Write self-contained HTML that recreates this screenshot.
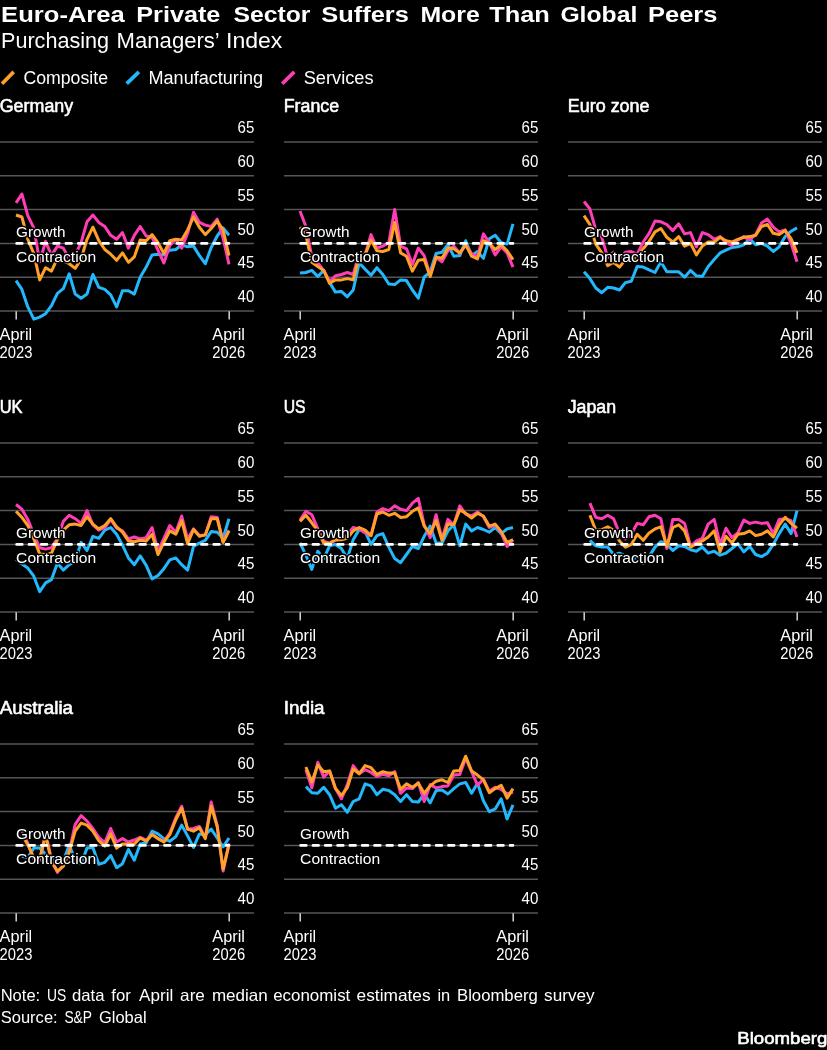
<!DOCTYPE html><html><head><meta charset="utf-8"><title>chart</title>
<style>html,body{margin:0;padding:0;background:#000;}svg{display:block;will-change:transform}text{font-family:"Liberation Sans",sans-serif;fill:#fff}</style></head><body>
<svg width="827" height="1050" viewBox="0 0 827 1050">
<rect width="827" height="1050" fill="#000"/>
<text x="1.1" y="21.9" font-size="22" font-weight="bold" textLength="123.7" lengthAdjust="spacingAndGlyphs">Euro-Area</text>
<text x="136.3" y="21.9" font-size="22" font-weight="bold" textLength="84.1" lengthAdjust="spacingAndGlyphs">Private</text>
<text x="233.6" y="21.9" font-size="22" font-weight="bold" textLength="76.9" lengthAdjust="spacingAndGlyphs">Sector</text>
<text x="321.3" y="21.9" font-size="22" font-weight="bold" textLength="87.6" lengthAdjust="spacingAndGlyphs">Suffers</text>
<text x="420.4" y="21.9" font-size="22" font-weight="bold" textLength="59.4" lengthAdjust="spacingAndGlyphs">More</text>
<text x="489.2" y="21.9" font-size="22" font-weight="bold" textLength="60.6" lengthAdjust="spacingAndGlyphs">Than</text>
<text x="560.4" y="21.9" font-size="22" font-weight="bold" textLength="76.9" lengthAdjust="spacingAndGlyphs">Global</text>
<text x="648.0" y="21.9" font-size="22" font-weight="bold" textLength="69.4" lengthAdjust="spacingAndGlyphs">Peers</text>
<text x="1.0" y="48.0" font-size="21.2" textLength="108.1" lengthAdjust="spacingAndGlyphs">Purchasing</text>
<text x="116.6" y="48.0" font-size="21.2" textLength="103.2" lengthAdjust="spacingAndGlyphs">Managers’</text>
<text x="226.0" y="48.0" font-size="21.2" textLength="56.4" lengthAdjust="spacingAndGlyphs">Index</text>
<line x1="2.0" y1="83.7" x2="13.7" y2="71.9" stroke="#ffa028" stroke-width="3.7"/>
<line x1="126.7" y1="83.7" x2="138.9" y2="71.9" stroke="#22b8fb" stroke-width="3.7"/>
<line x1="282.2" y1="83.7" x2="294.3" y2="71.9" stroke="#ff3eb5" stroke-width="3.7"/>
<text x="23.4" y="84.0" font-size="18.8" textLength="84.6" lengthAdjust="spacingAndGlyphs">Composite</text>
<text x="148.5" y="84.0" font-size="18.8" textLength="114.5" lengthAdjust="spacingAndGlyphs">Manufacturing</text>
<text x="303.7" y="84.0" font-size="18.8" textLength="69.9" lengthAdjust="spacingAndGlyphs">Services</text>
<text x="-0.3" y="111.5" font-size="17.6" textLength="73.5" lengthAdjust="spacingAndGlyphs" stroke="#fff" stroke-width="0.55" stroke-linejoin="round">Germany</text>
<line x1="0" y1="142.0" x2="254" y2="142.0" stroke="#565656" stroke-width="1.5"/>
<text x="254.4" y="133.1" font-size="15.6" text-anchor="end" textLength="16.8" lengthAdjust="spacingAndGlyphs">65</text>
<line x1="0" y1="175.8" x2="254" y2="175.8" stroke="#565656" stroke-width="1.5"/>
<text x="254.4" y="166.9" font-size="15.6" text-anchor="end" textLength="16.8" lengthAdjust="spacingAndGlyphs">60</text>
<line x1="0" y1="209.6" x2="254" y2="209.6" stroke="#565656" stroke-width="1.5"/>
<text x="254.4" y="200.7" font-size="15.6" text-anchor="end" textLength="16.8" lengthAdjust="spacingAndGlyphs">55</text>
<line x1="0" y1="243.4" x2="254" y2="243.4" stroke="#565656" stroke-width="1.5"/>
<text x="254.4" y="234.5" font-size="15.6" text-anchor="end" textLength="16.8" lengthAdjust="spacingAndGlyphs">50</text>
<line x1="0" y1="277.2" x2="254" y2="277.2" stroke="#565656" stroke-width="1.5"/>
<text x="254.4" y="268.3" font-size="15.6" text-anchor="end" textLength="16.8" lengthAdjust="spacingAndGlyphs">45</text>
<line x1="0" y1="311.0" x2="254" y2="311.0" stroke="#565656" stroke-width="1.5"/>
<text x="254.4" y="302.1" font-size="15.6" text-anchor="end" textLength="16.8" lengthAdjust="spacingAndGlyphs">40</text>
<line x1="16.2" y1="311.3" x2="16.2" y2="319.5" stroke="#d6d6d6" stroke-width="1.5"/>
<line x1="229.2" y1="311.3" x2="229.2" y2="319.5" stroke="#d6d6d6" stroke-width="1.5"/>
<text x="-0.4" y="339.8" font-size="15.6" textLength="32.6" lengthAdjust="spacingAndGlyphs">April</text>
<text x="-0.4" y="357.5" font-size="15.6" textLength="32.8" lengthAdjust="spacingAndGlyphs">2023</text>
<text x="212.29999999999998" y="339.8" font-size="15.6" textLength="32.6" lengthAdjust="spacingAndGlyphs">April</text>
<text x="212.29999999999998" y="357.5" font-size="15.6" textLength="32.8" lengthAdjust="spacingAndGlyphs">2026</text>
<polyline points="16.0,280.6 21.9,289.4 27.8,306.9 33.8,319.1 39.7,317.1 45.6,313.7 51.5,305.6 57.4,293.4 63.3,288.7 69.2,273.8 75.2,294.1 81.1,298.2 87.0,294.1 92.9,274.5 98.8,287.3 104.8,289.4 110.7,294.8 116.6,306.9 122.5,290.7 128.4,290.7 134.3,294.1 140.2,277.2 146.2,267.1 152.1,254.9 158.0,254.2 163.9,254.9 169.8,250.2 175.8,249.5 181.7,244.8 187.6,246.8 193.5,246.1 199.4,255.6 205.3,263.7 211.2,247.5 217.2,236.0 223.1,227.9 229.0,235.3" fill="none" stroke="#22b8fb" stroke-width="3.0" stroke-linejoin="round" stroke-linecap="butt"/>
<polyline points="16.0,202.8 21.9,194.1 27.8,215.7 33.8,227.9 39.7,261.7 45.6,241.4 51.5,255.6 57.4,246.1 63.3,248.1 69.2,258.9 75.2,254.9 81.1,242.7 87.0,221.8 92.9,215.0 98.8,222.4 104.8,226.5 110.7,235.3 116.6,239.3 122.5,232.6 128.4,248.1 134.3,235.3 140.2,226.5 146.2,236.0 152.1,237.3 158.0,250.2 163.9,263.0 169.8,245.4 175.8,239.3 181.7,248.1 187.6,233.3 193.5,212.3 199.4,222.4 205.3,225.1 211.2,226.5 217.2,219.1 223.1,238.0 229.0,264.4" fill="none" stroke="#ff3eb5" stroke-width="3.0" stroke-linejoin="round" stroke-linecap="butt"/>
<polyline points="16.0,215.0 21.9,217.0 27.8,239.3 33.8,253.5 39.7,279.9 45.6,267.7 51.5,271.1 57.4,258.3 63.3,261.0 69.2,263.7 75.2,268.4 81.1,258.9 87.0,239.3 92.9,227.2 98.8,240.7 104.8,249.5 110.7,254.2 116.6,260.3 122.5,252.9 128.4,262.3 134.3,256.9 140.2,240.0 146.2,240.7 152.1,234.6 158.0,242.7 163.9,253.5 169.8,240.7 175.8,239.3 181.7,240.0 187.6,229.9 193.5,217.0 199.4,227.2 205.3,234.6 211.2,228.5 217.2,221.1 223.1,229.9 229.0,255.6" fill="none" stroke="#ffa028" stroke-width="3.0" stroke-linejoin="round" stroke-linecap="butt"/>
<line x1="16.6" y1="243.4" x2="229.0" y2="243.4" stroke="#fff" stroke-width="2.6" stroke-linecap="round" stroke-dasharray="5.7,6.62"/>
<text x="16.1" y="237.2" font-size="15.4" textLength="49.3" lengthAdjust="spacingAndGlyphs" stroke="#000" stroke-width="3" stroke-linejoin="round" paint-order="stroke" fill="#fff">Growth</text>
<text x="16.1" y="262.1" font-size="15.4" textLength="80.0" lengthAdjust="spacingAndGlyphs" stroke="#000" stroke-width="3" stroke-linejoin="round" paint-order="stroke" fill="#fff">Contraction</text>
<text x="283.7" y="111.5" font-size="17.6" textLength="55.4" lengthAdjust="spacingAndGlyphs" stroke="#fff" stroke-width="0.55" stroke-linejoin="round">France</text>
<line x1="284" y1="142.0" x2="538" y2="142.0" stroke="#565656" stroke-width="1.5"/>
<text x="538.4" y="133.1" font-size="15.6" text-anchor="end" textLength="16.8" lengthAdjust="spacingAndGlyphs">65</text>
<line x1="284" y1="175.8" x2="538" y2="175.8" stroke="#565656" stroke-width="1.5"/>
<text x="538.4" y="166.9" font-size="15.6" text-anchor="end" textLength="16.8" lengthAdjust="spacingAndGlyphs">60</text>
<line x1="284" y1="209.6" x2="538" y2="209.6" stroke="#565656" stroke-width="1.5"/>
<text x="538.4" y="200.7" font-size="15.6" text-anchor="end" textLength="16.8" lengthAdjust="spacingAndGlyphs">55</text>
<line x1="284" y1="243.4" x2="538" y2="243.4" stroke="#565656" stroke-width="1.5"/>
<text x="538.4" y="234.5" font-size="15.6" text-anchor="end" textLength="16.8" lengthAdjust="spacingAndGlyphs">50</text>
<line x1="284" y1="277.2" x2="538" y2="277.2" stroke="#565656" stroke-width="1.5"/>
<text x="538.4" y="268.3" font-size="15.6" text-anchor="end" textLength="16.8" lengthAdjust="spacingAndGlyphs">45</text>
<line x1="284" y1="311.0" x2="538" y2="311.0" stroke="#565656" stroke-width="1.5"/>
<text x="538.4" y="302.1" font-size="15.6" text-anchor="end" textLength="16.8" lengthAdjust="spacingAndGlyphs">40</text>
<line x1="300.2" y1="311.3" x2="300.2" y2="319.5" stroke="#d6d6d6" stroke-width="1.5"/>
<line x1="513.2" y1="311.3" x2="513.2" y2="319.5" stroke="#d6d6d6" stroke-width="1.5"/>
<text x="283.6" y="339.8" font-size="15.6" textLength="32.6" lengthAdjust="spacingAndGlyphs">April</text>
<text x="283.6" y="357.5" font-size="15.6" textLength="32.8" lengthAdjust="spacingAndGlyphs">2023</text>
<text x="496.3" y="339.8" font-size="15.6" textLength="32.6" lengthAdjust="spacingAndGlyphs">April</text>
<text x="496.3" y="357.5" font-size="15.6" textLength="32.8" lengthAdjust="spacingAndGlyphs">2026</text>
<polyline points="300.0,273.1 305.9,272.5 311.8,270.4 317.8,276.5 323.7,270.4 329.6,282.6 335.5,292.1 341.4,291.4 347.3,296.8 353.2,290.0 359.2,263.0 365.1,269.1 371.0,275.2 376.9,267.7 382.8,274.5 388.8,284.0 394.7,284.6 400.6,279.9 406.5,280.6 412.4,290.0 418.3,298.2 424.2,277.2 430.2,271.8 436.1,253.5 442.0,252.2 447.9,244.8 453.8,256.2 459.8,255.6 465.7,240.7 471.6,255.6 477.5,251.5 483.4,258.3 489.3,238.7 495.2,235.3 501.2,242.7 507.1,244.1 513.0,223.8" fill="none" stroke="#22b8fb" stroke-width="3.0" stroke-linejoin="round" stroke-linecap="butt"/>
<polyline points="300.0,211.0 305.9,226.5 311.8,256.9 317.8,263.0 323.7,270.4 329.6,281.3 335.5,275.8 341.4,274.5 347.3,272.5 353.2,274.5 359.2,254.2 365.1,254.9 371.0,234.6 376.9,248.1 382.8,246.1 388.8,242.7 394.7,209.6 400.6,246.1 406.5,248.8 412.4,264.4 418.3,248.1 424.2,255.6 430.2,275.2 436.1,257.6 442.0,261.7 447.9,250.8 453.8,246.1 459.8,253.5 465.7,244.8 471.6,253.5 477.5,256.9 483.4,233.9 489.3,242.7 495.2,254.9 501.2,246.8 507.1,252.9 513.0,267.1" fill="none" stroke="#ff3eb5" stroke-width="3.0" stroke-linejoin="round" stroke-linecap="butt"/>
<polyline points="300.0,227.2 305.9,235.3 311.8,262.3 317.8,266.4 323.7,270.4 329.6,283.3 335.5,279.9 341.4,279.9 347.3,278.6 353.2,279.9 359.2,256.2 365.1,254.9 371.0,240.0 376.9,250.8 382.8,251.5 388.8,249.5 394.7,222.4 400.6,252.9 406.5,256.2 412.4,271.1 418.3,260.3 424.2,259.6 430.2,276.5 436.1,256.9 442.0,258.3 447.9,248.1 453.8,248.8 459.8,252.9 465.7,244.8 471.6,256.2 477.5,258.9 483.4,240.7 489.3,243.4 495.2,249.5 501.2,244.8 507.1,250.8 513.0,259.6" fill="none" stroke="#ffa028" stroke-width="3.0" stroke-linejoin="round" stroke-linecap="butt"/>
<line x1="300.6" y1="243.4" x2="513.0" y2="243.4" stroke="#fff" stroke-width="2.6" stroke-linecap="round" stroke-dasharray="5.7,6.62"/>
<text x="300.1" y="237.2" font-size="15.4" textLength="49.3" lengthAdjust="spacingAndGlyphs" stroke="#000" stroke-width="3" stroke-linejoin="round" paint-order="stroke" fill="#fff">Growth</text>
<text x="300.1" y="262.1" font-size="15.4" textLength="80.0" lengthAdjust="spacingAndGlyphs" stroke="#000" stroke-width="3" stroke-linejoin="round" paint-order="stroke" fill="#fff">Contraction</text>
<text x="567.7" y="111.5" font-size="17.6" textLength="81.9" lengthAdjust="spacingAndGlyphs" stroke="#fff" stroke-width="0.55" stroke-linejoin="round">Euro zone</text>
<line x1="568" y1="142.0" x2="822" y2="142.0" stroke="#565656" stroke-width="1.5"/>
<text x="822.4" y="133.1" font-size="15.6" text-anchor="end" textLength="16.8" lengthAdjust="spacingAndGlyphs">65</text>
<line x1="568" y1="175.8" x2="822" y2="175.8" stroke="#565656" stroke-width="1.5"/>
<text x="822.4" y="166.9" font-size="15.6" text-anchor="end" textLength="16.8" lengthAdjust="spacingAndGlyphs">60</text>
<line x1="568" y1="209.6" x2="822" y2="209.6" stroke="#565656" stroke-width="1.5"/>
<text x="822.4" y="200.7" font-size="15.6" text-anchor="end" textLength="16.8" lengthAdjust="spacingAndGlyphs">55</text>
<line x1="568" y1="243.4" x2="822" y2="243.4" stroke="#565656" stroke-width="1.5"/>
<text x="822.4" y="234.5" font-size="15.6" text-anchor="end" textLength="16.8" lengthAdjust="spacingAndGlyphs">50</text>
<line x1="568" y1="277.2" x2="822" y2="277.2" stroke="#565656" stroke-width="1.5"/>
<text x="822.4" y="268.3" font-size="15.6" text-anchor="end" textLength="16.8" lengthAdjust="spacingAndGlyphs">45</text>
<line x1="568" y1="311.0" x2="822" y2="311.0" stroke="#565656" stroke-width="1.5"/>
<text x="822.4" y="302.1" font-size="15.6" text-anchor="end" textLength="16.8" lengthAdjust="spacingAndGlyphs">40</text>
<line x1="584.2" y1="311.3" x2="584.2" y2="319.5" stroke="#d6d6d6" stroke-width="1.5"/>
<line x1="797.2" y1="311.3" x2="797.2" y2="319.5" stroke="#d6d6d6" stroke-width="1.5"/>
<text x="567.6" y="339.8" font-size="15.6" textLength="32.6" lengthAdjust="spacingAndGlyphs">April</text>
<text x="567.6" y="357.5" font-size="15.6" textLength="32.8" lengthAdjust="spacingAndGlyphs">2023</text>
<text x="780.3000000000001" y="339.8" font-size="15.6" textLength="32.6" lengthAdjust="spacingAndGlyphs">April</text>
<text x="780.3000000000001" y="357.5" font-size="15.6" textLength="32.8" lengthAdjust="spacingAndGlyphs">2026</text>
<polyline points="584.0,271.8 589.9,278.6 595.8,288.0 601.8,292.7 607.7,287.3 613.6,288.0 619.5,290.0 625.4,282.6 631.3,281.3 637.2,266.4 643.2,267.1 649.1,269.8 655.0,272.5 660.9,261.7 666.8,271.8 672.8,271.8 678.7,271.8 684.6,277.2 690.5,270.4 696.4,275.8 702.3,276.5 708.2,266.4 714.2,259.6 720.1,252.9 726.0,250.2 731.9,247.5 737.8,246.8 743.8,244.8 749.7,238.7 755.6,244.8 761.5,243.4 767.4,246.1 773.3,251.5 779.2,246.8 785.2,236.6 791.1,231.2 797.0,227.9" fill="none" stroke="#22b8fb" stroke-width="3.0" stroke-linejoin="round" stroke-linecap="butt"/>
<polyline points="584.0,201.5 589.9,208.9 595.8,229.9 601.8,237.3 607.7,257.6 613.6,252.2 619.5,258.3 625.4,252.2 631.3,251.5 637.2,254.2 643.2,242.0 649.1,233.3 655.0,221.1 660.9,221.8 666.8,224.5 672.8,230.6 678.7,223.8 684.6,233.9 690.5,232.6 696.4,246.8 702.3,232.6 708.2,234.6 714.2,239.3 720.1,236.6 726.0,242.7 731.9,245.4 737.8,240.0 743.8,236.6 749.7,240.0 755.6,234.6 761.5,223.1 767.4,219.1 773.3,227.2 779.2,231.9 785.2,229.9 791.1,243.4 797.0,261.7" fill="none" stroke="#ff3eb5" stroke-width="3.0" stroke-linejoin="round" stroke-linecap="butt"/>
<polyline points="584.0,215.7 589.9,224.5 595.8,244.1 601.8,252.9 607.7,265.7 613.6,262.3 619.5,267.1 625.4,259.6 631.3,259.6 637.2,257.6 643.2,248.8 649.1,241.4 655.0,231.9 660.9,228.5 666.8,237.3 672.8,242.0 678.7,236.6 684.6,246.1 690.5,243.4 696.4,254.9 702.3,246.1 708.2,242.0 714.2,242.0 720.1,237.3 726.0,240.7 731.9,242.0 737.8,239.3 743.8,237.3 749.7,236.6 755.6,235.3 761.5,226.5 767.4,224.5 773.3,233.3 779.2,234.6 785.2,230.6 791.1,238.7 797.0,252.9" fill="none" stroke="#ffa028" stroke-width="3.0" stroke-linejoin="round" stroke-linecap="butt"/>
<line x1="584.6" y1="243.4" x2="797.0" y2="243.4" stroke="#fff" stroke-width="2.6" stroke-linecap="round" stroke-dasharray="5.7,6.62"/>
<text x="584.1" y="237.2" font-size="15.4" textLength="49.3" lengthAdjust="spacingAndGlyphs" stroke="#000" stroke-width="3" stroke-linejoin="round" paint-order="stroke" fill="#fff">Growth</text>
<text x="584.1" y="262.1" font-size="15.4" textLength="80.0" lengthAdjust="spacingAndGlyphs" stroke="#000" stroke-width="3" stroke-linejoin="round" paint-order="stroke" fill="#fff">Contraction</text>
<text x="-0.3" y="412.5" font-size="17.6" textLength="22.9" lengthAdjust="spacingAndGlyphs" stroke="#fff" stroke-width="0.55" stroke-linejoin="round">UK</text>
<line x1="0" y1="443.0" x2="254" y2="443.0" stroke="#565656" stroke-width="1.5"/>
<text x="254.4" y="434.1" font-size="15.6" text-anchor="end" textLength="16.8" lengthAdjust="spacingAndGlyphs">65</text>
<line x1="0" y1="476.8" x2="254" y2="476.8" stroke="#565656" stroke-width="1.5"/>
<text x="254.4" y="467.9" font-size="15.6" text-anchor="end" textLength="16.8" lengthAdjust="spacingAndGlyphs">60</text>
<line x1="0" y1="510.6" x2="254" y2="510.6" stroke="#565656" stroke-width="1.5"/>
<text x="254.4" y="501.7" font-size="15.6" text-anchor="end" textLength="16.8" lengthAdjust="spacingAndGlyphs">55</text>
<line x1="0" y1="544.4" x2="254" y2="544.4" stroke="#565656" stroke-width="1.5"/>
<text x="254.4" y="535.5" font-size="15.6" text-anchor="end" textLength="16.8" lengthAdjust="spacingAndGlyphs">50</text>
<line x1="0" y1="578.2" x2="254" y2="578.2" stroke="#565656" stroke-width="1.5"/>
<text x="254.4" y="569.3" font-size="15.6" text-anchor="end" textLength="16.8" lengthAdjust="spacingAndGlyphs">45</text>
<line x1="0" y1="612.0" x2="254" y2="612.0" stroke="#565656" stroke-width="1.5"/>
<text x="254.4" y="603.1" font-size="15.6" text-anchor="end" textLength="16.8" lengthAdjust="spacingAndGlyphs">40</text>
<line x1="16.2" y1="612.3" x2="16.2" y2="620.5" stroke="#d6d6d6" stroke-width="1.5"/>
<line x1="229.2" y1="612.3" x2="229.2" y2="620.5" stroke="#d6d6d6" stroke-width="1.5"/>
<text x="-0.4" y="640.8" font-size="15.6" textLength="32.6" lengthAdjust="spacingAndGlyphs">April</text>
<text x="-0.4" y="658.5" font-size="15.6" textLength="32.8" lengthAdjust="spacingAndGlyphs">2023</text>
<text x="212.29999999999998" y="640.8" font-size="15.6" textLength="32.6" lengthAdjust="spacingAndGlyphs">April</text>
<text x="212.29999999999998" y="658.5" font-size="15.6" textLength="32.8" lengthAdjust="spacingAndGlyphs">2026</text>
<polyline points="16.0,559.3 21.9,564.0 27.8,568.1 33.8,576.2 39.7,591.7 45.6,582.9 51.5,579.6 57.4,563.3 63.3,570.1 69.2,564.7 75.2,561.3 81.1,542.4 87.0,550.5 92.9,536.3 98.8,538.3 104.8,530.2 110.7,527.5 116.6,534.3 122.5,545.1 128.4,557.9 134.3,564.7 140.2,555.9 146.2,565.4 152.1,578.9 158.0,575.5 163.9,568.7 169.8,559.9 175.8,557.9 181.7,564.7 187.6,570.1 193.5,546.4 199.4,543.0 205.3,540.3 211.2,531.6 217.2,532.2 223.1,538.3 229.0,518.7" fill="none" stroke="#22b8fb" stroke-width="3.0" stroke-linejoin="round" stroke-linecap="butt"/>
<polyline points="16.0,504.5 21.9,509.2 27.8,519.4 33.8,534.3 39.7,547.8 45.6,549.1 51.5,547.8 57.4,538.3 63.3,521.4 69.2,515.3 75.2,518.7 81.1,523.4 87.0,510.6 92.9,524.8 98.8,530.2 104.8,527.5 110.7,519.4 116.6,528.2 122.5,530.9 128.4,539.0 134.3,537.0 140.2,539.0 146.2,537.6 152.1,527.5 158.0,551.2 163.9,538.3 169.8,525.5 175.8,532.2 181.7,516.0 187.6,539.0 193.5,528.9 199.4,535.6 205.3,534.9 211.2,516.7 217.2,517.4 223.1,541.7 229.0,530.2" fill="none" stroke="#ff3eb5" stroke-width="3.0" stroke-linejoin="round" stroke-linecap="butt"/>
<polyline points="16.0,511.3 21.9,517.4 27.8,525.5 33.8,539.0 39.7,553.9 45.6,554.5 51.5,553.2 57.4,539.7 63.3,530.2 69.2,524.8 75.2,524.1 81.1,525.5 87.0,516.7 92.9,524.1 98.8,528.9 104.8,525.5 110.7,518.7 116.6,526.8 122.5,532.2 128.4,541.0 134.3,541.7 140.2,540.3 146.2,541.0 152.1,534.3 158.0,554.5 163.9,542.4 169.8,530.9 175.8,534.3 181.7,520.7 187.6,543.7 193.5,529.5 199.4,536.3 205.3,534.9 211.2,518.7 217.2,518.7 223.1,542.4 229.0,530.9" fill="none" stroke="#ffa028" stroke-width="3.0" stroke-linejoin="round" stroke-linecap="butt"/>
<line x1="16.6" y1="544.4" x2="229.0" y2="544.4" stroke="#fff" stroke-width="2.6" stroke-linecap="round" stroke-dasharray="5.7,6.62"/>
<text x="16.1" y="538.2" font-size="15.4" textLength="49.3" lengthAdjust="spacingAndGlyphs" stroke="#000" stroke-width="3" stroke-linejoin="round" paint-order="stroke" fill="#fff">Growth</text>
<text x="16.1" y="563.1" font-size="15.4" textLength="80.0" lengthAdjust="spacingAndGlyphs" stroke="#000" stroke-width="3" stroke-linejoin="round" paint-order="stroke" fill="#fff">Contraction</text>
<text x="283.7" y="412.5" font-size="17.6" textLength="21.9" lengthAdjust="spacingAndGlyphs" stroke="#fff" stroke-width="0.55" stroke-linejoin="round">US</text>
<line x1="284" y1="443.0" x2="538" y2="443.0" stroke="#565656" stroke-width="1.5"/>
<text x="538.4" y="434.1" font-size="15.6" text-anchor="end" textLength="16.8" lengthAdjust="spacingAndGlyphs">65</text>
<line x1="284" y1="476.8" x2="538" y2="476.8" stroke="#565656" stroke-width="1.5"/>
<text x="538.4" y="467.9" font-size="15.6" text-anchor="end" textLength="16.8" lengthAdjust="spacingAndGlyphs">60</text>
<line x1="284" y1="510.6" x2="538" y2="510.6" stroke="#565656" stroke-width="1.5"/>
<text x="538.4" y="501.7" font-size="15.6" text-anchor="end" textLength="16.8" lengthAdjust="spacingAndGlyphs">55</text>
<line x1="284" y1="544.4" x2="538" y2="544.4" stroke="#565656" stroke-width="1.5"/>
<text x="538.4" y="535.5" font-size="15.6" text-anchor="end" textLength="16.8" lengthAdjust="spacingAndGlyphs">50</text>
<line x1="284" y1="578.2" x2="538" y2="578.2" stroke="#565656" stroke-width="1.5"/>
<text x="538.4" y="569.3" font-size="15.6" text-anchor="end" textLength="16.8" lengthAdjust="spacingAndGlyphs">45</text>
<line x1="284" y1="612.0" x2="538" y2="612.0" stroke="#565656" stroke-width="1.5"/>
<text x="538.4" y="603.1" font-size="15.6" text-anchor="end" textLength="16.8" lengthAdjust="spacingAndGlyphs">40</text>
<line x1="300.2" y1="612.3" x2="300.2" y2="620.5" stroke="#d6d6d6" stroke-width="1.5"/>
<line x1="513.2" y1="612.3" x2="513.2" y2="620.5" stroke="#d6d6d6" stroke-width="1.5"/>
<text x="283.6" y="640.8" font-size="15.6" textLength="32.6" lengthAdjust="spacingAndGlyphs">April</text>
<text x="283.6" y="658.5" font-size="15.6" textLength="32.8" lengthAdjust="spacingAndGlyphs">2023</text>
<text x="496.3" y="640.8" font-size="15.6" textLength="32.6" lengthAdjust="spacingAndGlyphs">April</text>
<text x="496.3" y="658.5" font-size="15.6" textLength="32.8" lengthAdjust="spacingAndGlyphs">2026</text>
<polyline points="300.0,543.0 305.9,555.2 311.8,569.4 317.8,551.2 323.7,558.6 329.6,545.8 335.5,544.4 341.4,548.5 347.3,558.6 353.2,539.7 359.2,529.5 365.1,531.6 371.0,544.4 376.9,535.6 382.8,533.6 388.8,547.1 394.7,558.6 400.6,562.7 406.5,554.5 412.4,546.4 418.3,548.5 424.2,536.3 430.2,526.1 436.1,543.0 442.0,543.0 447.9,530.9 453.8,524.8 459.8,545.8 465.7,524.1 471.6,530.9 477.5,527.5 483.4,529.5 489.3,532.2 495.2,527.5 501.2,533.6 507.1,528.9 513.0,527.5" fill="none" stroke="#22b8fb" stroke-width="3.0" stroke-linejoin="round" stroke-linecap="butt"/>
<polyline points="300.0,520.1 305.9,511.3 311.8,514.7 317.8,528.9 323.7,541.0 329.6,543.7 335.5,540.3 341.4,539.0 347.3,534.9 353.2,527.5 359.2,528.9 365.1,532.9 371.0,535.6 376.9,512.0 382.8,508.6 388.8,510.6 394.7,505.9 400.6,509.2 406.5,510.6 412.4,503.2 418.3,498.4 424.2,524.8 430.2,537.6 436.1,514.7 442.0,539.0 447.9,519.4 453.8,524.8 459.8,505.9 465.7,514.0 471.6,516.0 477.5,512.0 483.4,516.7 489.3,527.5 495.2,524.8 501.2,532.9 507.1,546.4 513.0,539.7" fill="none" stroke="#ff3eb5" stroke-width="3.0" stroke-linejoin="round" stroke-linecap="butt"/>
<polyline points="300.0,521.4 305.9,515.3 311.8,522.8 317.8,530.9 323.7,543.0 329.6,543.0 335.5,539.7 341.4,539.7 347.3,538.3 353.2,530.9 359.2,527.5 365.1,530.2 371.0,535.6 376.9,514.0 382.8,512.0 388.8,515.3 394.7,513.3 400.6,517.4 406.5,516.7 412.4,511.3 418.3,507.9 424.2,526.1 430.2,533.6 436.1,520.7 442.0,540.3 447.9,524.1 453.8,524.8 459.8,509.9 465.7,513.3 471.6,518.0 477.5,513.3 483.4,516.0 489.3,526.1 495.2,524.1 501.2,531.6 507.1,542.4 513.0,539.7" fill="none" stroke="#ffa028" stroke-width="3.0" stroke-linejoin="round" stroke-linecap="butt"/>
<line x1="300.6" y1="544.4" x2="513.0" y2="544.4" stroke="#fff" stroke-width="2.6" stroke-linecap="round" stroke-dasharray="5.7,6.62"/>
<text x="300.1" y="538.2" font-size="15.4" textLength="49.3" lengthAdjust="spacingAndGlyphs" stroke="#000" stroke-width="3" stroke-linejoin="round" paint-order="stroke" fill="#fff">Growth</text>
<text x="300.1" y="563.1" font-size="15.4" textLength="80.0" lengthAdjust="spacingAndGlyphs" stroke="#000" stroke-width="3" stroke-linejoin="round" paint-order="stroke" fill="#fff">Contraction</text>
<text x="567.7" y="412.5" font-size="17.6" textLength="48.4" lengthAdjust="spacingAndGlyphs" stroke="#fff" stroke-width="0.55" stroke-linejoin="round">Japan</text>
<line x1="568" y1="443.0" x2="822" y2="443.0" stroke="#565656" stroke-width="1.5"/>
<text x="822.4" y="434.1" font-size="15.6" text-anchor="end" textLength="16.8" lengthAdjust="spacingAndGlyphs">65</text>
<line x1="568" y1="476.8" x2="822" y2="476.8" stroke="#565656" stroke-width="1.5"/>
<text x="822.4" y="467.9" font-size="15.6" text-anchor="end" textLength="16.8" lengthAdjust="spacingAndGlyphs">60</text>
<line x1="568" y1="510.6" x2="822" y2="510.6" stroke="#565656" stroke-width="1.5"/>
<text x="822.4" y="501.7" font-size="15.6" text-anchor="end" textLength="16.8" lengthAdjust="spacingAndGlyphs">55</text>
<line x1="568" y1="544.4" x2="822" y2="544.4" stroke="#565656" stroke-width="1.5"/>
<text x="822.4" y="535.5" font-size="15.6" text-anchor="end" textLength="16.8" lengthAdjust="spacingAndGlyphs">50</text>
<line x1="568" y1="578.2" x2="822" y2="578.2" stroke="#565656" stroke-width="1.5"/>
<text x="822.4" y="569.3" font-size="15.6" text-anchor="end" textLength="16.8" lengthAdjust="spacingAndGlyphs">45</text>
<line x1="568" y1="612.0" x2="822" y2="612.0" stroke="#565656" stroke-width="1.5"/>
<text x="822.4" y="603.1" font-size="15.6" text-anchor="end" textLength="16.8" lengthAdjust="spacingAndGlyphs">40</text>
<line x1="584.2" y1="612.3" x2="584.2" y2="620.5" stroke="#d6d6d6" stroke-width="1.5"/>
<line x1="797.2" y1="612.3" x2="797.2" y2="620.5" stroke="#d6d6d6" stroke-width="1.5"/>
<text x="567.6" y="640.8" font-size="15.6" textLength="32.6" lengthAdjust="spacingAndGlyphs">April</text>
<text x="567.6" y="658.5" font-size="15.6" textLength="32.8" lengthAdjust="spacingAndGlyphs">2023</text>
<text x="780.3000000000001" y="640.8" font-size="15.6" textLength="32.6" lengthAdjust="spacingAndGlyphs">April</text>
<text x="780.3000000000001" y="658.5" font-size="15.6" textLength="32.8" lengthAdjust="spacingAndGlyphs">2026</text>
<polyline points="589.9,540.3 595.8,545.8 601.8,547.1 607.7,547.1 613.6,554.5 619.5,553.2 625.4,555.9 631.3,558.6 637.2,557.9 643.2,563.3 649.1,556.6 655.0,547.1 660.9,541.7 666.8,544.4 672.8,550.5 678.7,545.8 684.6,546.4 690.5,549.8 696.4,551.2 702.3,547.1 708.2,553.2 714.2,551.2 720.1,555.2 726.0,553.2 731.9,548.5 737.8,543.7 743.8,551.8 749.7,546.4 755.6,554.5 761.5,556.6 767.4,553.2 773.3,544.4 779.2,533.6 785.2,524.1 791.1,533.6 797.0,510.6" fill="none" stroke="#22b8fb" stroke-width="3.0" stroke-linejoin="round" stroke-linecap="butt"/>
<polyline points="589.9,503.2 595.8,517.4 601.8,518.7 607.7,515.3 613.6,518.7 619.5,533.6 625.4,539.0 631.3,534.3 637.2,523.4 643.2,524.8 649.1,516.7 655.0,515.3 660.9,518.7 666.8,548.5 672.8,519.4 678.7,519.4 684.6,523.4 690.5,546.4 696.4,541.0 702.3,538.3 708.2,524.1 714.2,519.4 720.1,544.4 726.0,528.2 731.9,537.6 737.8,532.9 743.8,520.1 749.7,523.4 755.6,522.1 761.5,523.4 767.4,522.8 773.3,533.6 779.2,519.4 785.2,518.7 791.1,520.7 797.0,537.0" fill="none" stroke="#ff3eb5" stroke-width="3.0" stroke-linejoin="round" stroke-linecap="butt"/>
<polyline points="589.9,515.3 595.8,530.2 601.8,529.5 607.7,526.8 613.6,530.2 619.5,541.0 625.4,547.1 631.3,544.4 637.2,534.3 643.2,540.3 649.1,532.9 655.0,528.9 660.9,526.8 666.8,546.4 672.8,527.5 678.7,524.8 684.6,530.9 690.5,547.1 696.4,543.7 702.3,541.0 708.2,537.0 714.2,530.9 720.1,551.8 726.0,536.3 731.9,543.0 737.8,534.3 743.8,533.6 749.7,530.9 755.6,535.6 761.5,534.3 767.4,530.9 773.3,537.0 779.2,524.8 785.2,517.4 791.1,523.4 797.0,528.2" fill="none" stroke="#ffa028" stroke-width="3.0" stroke-linejoin="round" stroke-linecap="butt"/>
<line x1="584.6" y1="544.4" x2="797.0" y2="544.4" stroke="#fff" stroke-width="2.6" stroke-linecap="round" stroke-dasharray="5.7,6.62"/>
<text x="584.1" y="538.2" font-size="15.4" textLength="49.3" lengthAdjust="spacingAndGlyphs" stroke="#000" stroke-width="3" stroke-linejoin="round" paint-order="stroke" fill="#fff">Growth</text>
<text x="584.1" y="563.1" font-size="15.4" textLength="80.0" lengthAdjust="spacingAndGlyphs" stroke="#000" stroke-width="3" stroke-linejoin="round" paint-order="stroke" fill="#fff">Contraction</text>
<text x="-0.3" y="713.5" font-size="17.6" textLength="73.4" lengthAdjust="spacingAndGlyphs" stroke="#fff" stroke-width="0.55" stroke-linejoin="round">Australia</text>
<line x1="0" y1="744.0" x2="254" y2="744.0" stroke="#565656" stroke-width="1.5"/>
<text x="254.4" y="735.1" font-size="15.6" text-anchor="end" textLength="16.8" lengthAdjust="spacingAndGlyphs">65</text>
<line x1="0" y1="777.8" x2="254" y2="777.8" stroke="#565656" stroke-width="1.5"/>
<text x="254.4" y="768.9" font-size="15.6" text-anchor="end" textLength="16.8" lengthAdjust="spacingAndGlyphs">60</text>
<line x1="0" y1="811.6" x2="254" y2="811.6" stroke="#565656" stroke-width="1.5"/>
<text x="254.4" y="802.7" font-size="15.6" text-anchor="end" textLength="16.8" lengthAdjust="spacingAndGlyphs">55</text>
<line x1="0" y1="845.4" x2="254" y2="845.4" stroke="#565656" stroke-width="1.5"/>
<text x="254.4" y="836.5" font-size="15.6" text-anchor="end" textLength="16.8" lengthAdjust="spacingAndGlyphs">50</text>
<line x1="0" y1="879.2" x2="254" y2="879.2" stroke="#565656" stroke-width="1.5"/>
<text x="254.4" y="870.3" font-size="15.6" text-anchor="end" textLength="16.8" lengthAdjust="spacingAndGlyphs">45</text>
<line x1="0" y1="913.0" x2="254" y2="913.0" stroke="#565656" stroke-width="1.5"/>
<text x="254.4" y="904.1" font-size="15.6" text-anchor="end" textLength="16.8" lengthAdjust="spacingAndGlyphs">40</text>
<line x1="16.2" y1="913.3" x2="16.2" y2="921.5" stroke="#d6d6d6" stroke-width="1.5"/>
<line x1="229.2" y1="913.3" x2="229.2" y2="921.5" stroke="#d6d6d6" stroke-width="1.5"/>
<text x="-0.4" y="941.8" font-size="15.6" textLength="32.6" lengthAdjust="spacingAndGlyphs">April</text>
<text x="-0.4" y="959.5" font-size="15.6" textLength="32.8" lengthAdjust="spacingAndGlyphs">2023</text>
<text x="212.29999999999998" y="941.8" font-size="15.6" textLength="32.6" lengthAdjust="spacingAndGlyphs">April</text>
<text x="212.29999999999998" y="959.5" font-size="15.6" textLength="32.8" lengthAdjust="spacingAndGlyphs">2026</text>
<polyline points="21.9,856.2 27.8,857.6 33.8,848.1 39.7,848.1 45.6,854.2 51.5,857.6 57.4,860.9 63.3,861.6 69.2,844.7 75.2,860.3 81.1,863.7 87.0,848.1 92.9,847.4 98.8,864.3 104.8,862.3 110.7,855.5 116.6,867.7 122.5,863.7 128.4,849.5 134.3,860.3 140.2,844.0 146.2,842.7 152.1,831.2 158.0,833.9 163.9,838.6 169.8,841.3 175.8,836.6 181.7,825.1 187.6,835.9 193.5,847.4 199.4,833.9 205.3,834.6 211.2,829.2 217.2,838.0 223.1,846.8 229.0,838.0" fill="none" stroke="#22b8fb" stroke-width="3.0" stroke-linejoin="round" stroke-linecap="butt"/>
<polyline points="21.9,831.2 27.8,843.4 33.8,859.6 39.7,860.3 45.6,833.2 51.5,859.6 57.4,872.4 63.3,865.0 69.2,851.5 75.2,824.4 81.1,815.7 87.0,821.1 92.9,828.5 98.8,837.3 104.8,842.7 110.7,828.5 116.6,842.0 122.5,838.6 128.4,842.0 134.3,840.0 140.2,837.3 146.2,840.0 152.1,834.6 158.0,838.6 163.9,841.3 169.8,833.2 175.8,817.7 181.7,806.2 187.6,829.2 193.5,828.5 199.4,826.5 205.3,838.0 211.2,802.1 217.2,825.8 223.1,871.1 229.0,843.4" fill="none" stroke="#ff3eb5" stroke-width="3.0" stroke-linejoin="round" stroke-linecap="butt"/>
<polyline points="21.9,834.6 27.8,844.7 33.8,857.6 39.7,858.9 45.6,835.3 51.5,861.6 57.4,871.1 63.3,866.4 69.2,852.2 75.2,831.2 81.1,823.1 87.0,825.1 92.9,831.2 98.8,840.7 104.8,846.1 110.7,833.9 116.6,848.1 122.5,844.0 128.4,844.0 134.3,844.0 140.2,838.0 146.2,841.3 152.1,834.6 158.0,838.6 163.9,842.0 169.8,834.6 175.8,819.7 181.7,808.2 187.6,829.2 193.5,831.2 199.4,827.8 205.3,838.6 211.2,806.2 217.2,826.5 223.1,869.1 229.0,844.7" fill="none" stroke="#ffa028" stroke-width="3.0" stroke-linejoin="round" stroke-linecap="butt"/>
<line x1="16.6" y1="845.4" x2="229.0" y2="845.4" stroke="#fff" stroke-width="2.6" stroke-linecap="round" stroke-dasharray="5.7,6.62"/>
<text x="16.1" y="839.2" font-size="15.4" textLength="49.3" lengthAdjust="spacingAndGlyphs" stroke="#000" stroke-width="3" stroke-linejoin="round" paint-order="stroke" fill="#fff">Growth</text>
<text x="16.1" y="864.1" font-size="15.4" textLength="80.0" lengthAdjust="spacingAndGlyphs" stroke="#000" stroke-width="3" stroke-linejoin="round" paint-order="stroke" fill="#fff">Contraction</text>
<text x="283.7" y="713.5" font-size="17.6" textLength="40.9" lengthAdjust="spacingAndGlyphs" stroke="#fff" stroke-width="0.55" stroke-linejoin="round">India</text>
<line x1="284" y1="744.0" x2="538" y2="744.0" stroke="#565656" stroke-width="1.5"/>
<text x="538.4" y="735.1" font-size="15.6" text-anchor="end" textLength="16.8" lengthAdjust="spacingAndGlyphs">65</text>
<line x1="284" y1="777.8" x2="538" y2="777.8" stroke="#565656" stroke-width="1.5"/>
<text x="538.4" y="768.9" font-size="15.6" text-anchor="end" textLength="16.8" lengthAdjust="spacingAndGlyphs">60</text>
<line x1="284" y1="811.6" x2="538" y2="811.6" stroke="#565656" stroke-width="1.5"/>
<text x="538.4" y="802.7" font-size="15.6" text-anchor="end" textLength="16.8" lengthAdjust="spacingAndGlyphs">55</text>
<line x1="284" y1="845.4" x2="538" y2="845.4" stroke="#565656" stroke-width="1.5"/>
<text x="538.4" y="836.5" font-size="15.6" text-anchor="end" textLength="16.8" lengthAdjust="spacingAndGlyphs">50</text>
<line x1="284" y1="879.2" x2="538" y2="879.2" stroke="#565656" stroke-width="1.5"/>
<text x="538.4" y="870.3" font-size="15.6" text-anchor="end" textLength="16.8" lengthAdjust="spacingAndGlyphs">45</text>
<line x1="284" y1="913.0" x2="538" y2="913.0" stroke="#565656" stroke-width="1.5"/>
<text x="538.4" y="904.1" font-size="15.6" text-anchor="end" textLength="16.8" lengthAdjust="spacingAndGlyphs">40</text>
<line x1="300.2" y1="913.3" x2="300.2" y2="921.5" stroke="#d6d6d6" stroke-width="1.5"/>
<line x1="513.2" y1="913.3" x2="513.2" y2="921.5" stroke="#d6d6d6" stroke-width="1.5"/>
<text x="283.6" y="941.8" font-size="15.6" textLength="32.6" lengthAdjust="spacingAndGlyphs">April</text>
<text x="283.6" y="959.5" font-size="15.6" textLength="32.8" lengthAdjust="spacingAndGlyphs">2023</text>
<text x="496.3" y="941.8" font-size="15.6" textLength="32.6" lengthAdjust="spacingAndGlyphs">April</text>
<text x="496.3" y="959.5" font-size="15.6" textLength="32.8" lengthAdjust="spacingAndGlyphs">2026</text>
<polyline points="305.9,786.6 311.8,792.7 317.8,793.3 323.7,787.3 329.6,794.7 335.5,808.2 341.4,804.8 347.3,812.3 353.2,801.5 359.2,798.8 365.1,783.9 371.0,785.9 376.9,794.7 382.8,789.3 388.8,790.6 394.7,794.7 400.6,801.5 406.5,794.7 412.4,801.5 418.3,802.1 424.2,794.0 430.2,802.8 436.1,790.6 442.0,790.0 447.9,794.0 453.8,788.6 459.8,783.9 465.7,782.5 471.6,793.3 477.5,783.2 483.4,800.8 489.3,811.6 495.2,808.9 501.2,798.8 507.1,819.0 513.0,804.8" fill="none" stroke="#22b8fb" stroke-width="3.0" stroke-linejoin="round" stroke-linecap="butt"/>
<polyline points="305.9,769.7 311.8,787.9 317.8,762.3 323.7,777.1 329.6,771.0 335.5,788.6 341.4,798.8 347.3,784.6 353.2,765.6 359.2,773.7 365.1,769.7 371.0,772.4 376.9,776.4 382.8,774.4 388.8,775.8 394.7,771.7 400.6,793.3 406.5,787.9 412.4,788.6 418.3,782.5 424.2,801.5 430.2,784.6 436.1,787.9 442.0,786.6 447.9,785.9 453.8,775.1 459.8,774.4 465.7,758.2 471.6,771.7 477.5,785.2 483.4,779.2 489.3,791.3 495.2,787.3 501.2,789.3 507.1,794.0 513.0,792.0" fill="none" stroke="#ff3eb5" stroke-width="3.0" stroke-linejoin="round" stroke-linecap="butt"/>
<polyline points="305.9,767.0 311.8,781.9 317.8,765.0 323.7,771.7 329.6,771.0 335.5,788.6 341.4,795.4 347.3,787.9 353.2,769.0 359.2,773.7 365.1,765.6 371.0,767.7 376.9,774.4 382.8,771.7 388.8,773.1 394.7,773.1 400.6,789.3 406.5,783.9 412.4,787.3 418.3,783.2 424.2,793.3 430.2,785.9 436.1,781.2 442.0,779.8 447.9,782.5 453.8,771.0 459.8,770.4 465.7,756.2 471.6,771.0 477.5,775.1 483.4,779.8 489.3,792.7 495.2,788.6 501.2,785.2 507.1,798.1 513.0,788.6" fill="none" stroke="#ffa028" stroke-width="3.0" stroke-linejoin="round" stroke-linecap="butt"/>
<line x1="300.6" y1="845.4" x2="513.0" y2="845.4" stroke="#fff" stroke-width="2.6" stroke-linecap="round" stroke-dasharray="5.7,6.62"/>
<text x="300.1" y="839.2" font-size="15.4" textLength="49.3" lengthAdjust="spacingAndGlyphs" stroke="#000" stroke-width="3" stroke-linejoin="round" paint-order="stroke" fill="#fff">Growth</text>
<text x="300.1" y="864.1" font-size="15.4" textLength="80.0" lengthAdjust="spacingAndGlyphs" stroke="#000" stroke-width="3" stroke-linejoin="round" paint-order="stroke" fill="#fff">Contraction</text>
<text x="0.7" y="1000.6" font-size="16.5" textLength="39.5" lengthAdjust="spacingAndGlyphs">Note:</text>
<text x="47.0" y="1000.6" font-size="16.5" textLength="19.2" lengthAdjust="spacingAndGlyphs">US</text>
<text x="72.0" y="1000.6" font-size="16.5" textLength="32.5" lengthAdjust="spacingAndGlyphs">data</text>
<text x="111.3" y="1000.6" font-size="16.5" textLength="19.5" lengthAdjust="spacingAndGlyphs">for</text>
<text x="139.1" y="1000.6" font-size="16.5" textLength="34.2" lengthAdjust="spacingAndGlyphs">April</text>
<text x="180.1" y="1000.6" font-size="16.5" textLength="24.8" lengthAdjust="spacingAndGlyphs">are</text>
<text x="211.9" y="1000.6" font-size="16.5" textLength="55.8" lengthAdjust="spacingAndGlyphs">median</text>
<text x="273.2" y="1000.6" font-size="16.5" textLength="77.1" lengthAdjust="spacingAndGlyphs">economist</text>
<text x="356.6" y="1000.6" font-size="16.5" textLength="74.0" lengthAdjust="spacingAndGlyphs">estimates</text>
<text x="437.4" y="1000.6" font-size="16.5" textLength="12.8" lengthAdjust="spacingAndGlyphs">in</text>
<text x="457.0" y="1000.6" font-size="16.5" textLength="80.8" lengthAdjust="spacingAndGlyphs">Bloomberg</text>
<text x="544.1" y="1000.6" font-size="16.5" textLength="50.5" lengthAdjust="spacingAndGlyphs">survey</text>
<text x="0.7" y="1022.8" font-size="16.5" textLength="57.0" lengthAdjust="spacingAndGlyphs">Source:</text>
<text x="64.4" y="1022.8" font-size="16.5" textLength="27.6" lengthAdjust="spacingAndGlyphs">S&amp;P</text>
<text x="99.0" y="1022.8" font-size="16.5" textLength="47.6" lengthAdjust="spacingAndGlyphs">Global</text>
<text x="737.3" y="1043.8" font-size="17.2" textLength="90" lengthAdjust="spacingAndGlyphs" stroke="#fff" stroke-width="0.6" stroke-linejoin="round">Bloomberg</text>
</svg></body></html>
